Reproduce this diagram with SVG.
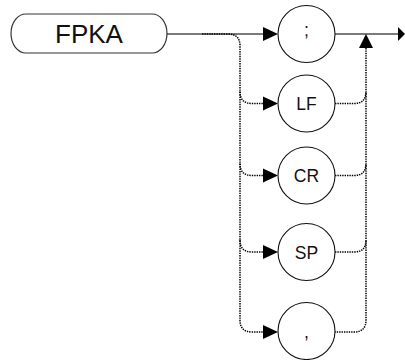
<svg xmlns="http://www.w3.org/2000/svg" width="405" height="360" viewBox="0 0 405 360">
<style>
.box{fill:#fff;stroke:#333;stroke-width:1.2}
.node{fill:#fff;stroke:#111;stroke-width:1.1}
.lbl{font-family:"Liberation Sans",Arial,sans-serif;font-size:17.5px;fill:#111;text-anchor:middle}
.main{fill:none;stroke:#7a7a7a;stroke-width:2}
.dot{fill:none;stroke:#000;stroke-width:1.5;stroke-dasharray:1.4 1}
.ah{fill:#000}
</style>
<rect width="405" height="360" fill="#fff"/>
<g id="connectors">
<path class="main" d="M167,34 H264 M335,34 H399"/>
<path class="dot" d="M202,34 H228 Q240,34 240,46 V320 Q240,332 252,332 H264"/>
<path class="dot" d="M240,91.5 Q240,103.5 252,103.5 H264"/>
<path class="dot" d="M240,163.5 Q240,175.5 252,175.5 H264"/>
<path class="dot" d="M240,240 Q240,252 252,252 H264"/>
<path class="dot" d="M366,48 V320 Q366,332 354,332 H335"/>
<path class="dot" d="M335,103.5 H354 Q366,103.5 366,91.5"/>
<path class="dot" d="M335,175.5 H354 Q366,175.5 366,163.5"/>
<path class="dot" d="M335,252 H354 Q366,252 366,240"/>
<polygon class="ah" points="263,27 278,34 263,41"/>
<polygon class="ah" points="263,96.5 278,103.5 263,110.5"/>
<polygon class="ah" points="263,168.5 278,175.5 263,182.5"/>
<polygon class="ah" points="263,245 278,252 263,259"/>
<polygon class="ah" points="263,325 278,332 263,339"/>
<polygon class="ah" points="359,48 366,34 373,48"/>
<polygon class="ah" points="398,27 405,34 398,41"/>
</g>
<g id="FPKA">
<rect class="box" x="11" y="14" width="156" height="39" rx="15" ry="19.5"/>
<text x="89" y="42.5" style="font-family:'Liberation Sans',Arial,sans-serif;font-size:26px;fill:#111;text-anchor:middle">FPKA</text>
</g>
<g id="semicolon">
<circle class="node" cx="306.5" cy="34" r="28.5"/>
<text class="lbl" x="306.5" y="36">;</text>
</g>
<g id="LF">
<circle class="node" cx="306.5" cy="103.5" r="28.5"/>
<text class="lbl" x="306.5" y="110">LF</text>
</g>
<g id="CR">
<circle class="node" cx="306.5" cy="175.5" r="28.5"/>
<text class="lbl" x="306.5" y="182">CR</text>
</g>
<g id="SP">
<circle class="node" cx="306.5" cy="252" r="28.5"/>
<text class="lbl" x="306.5" y="258.5">SP</text>
</g>
<g id="comma">
<circle class="node" cx="306.5" cy="331" r="28.5"/>
<text class="lbl" x="306.5" y="337.5">,</text>
</g>
</svg>
